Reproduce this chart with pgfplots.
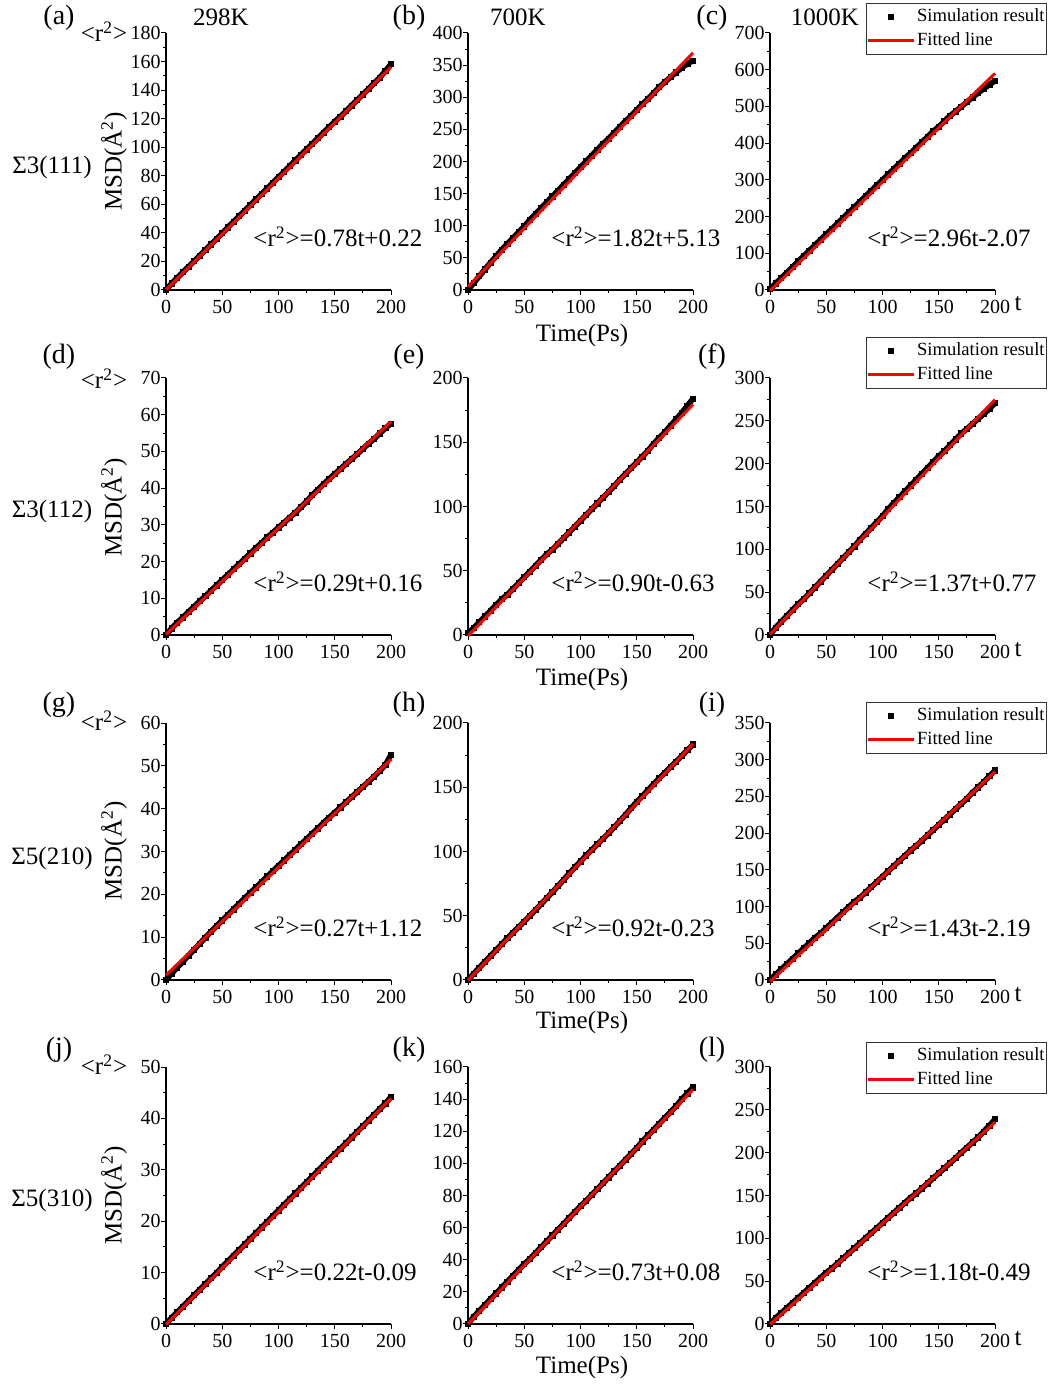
\documentclass[border=0pt]{standalone}
\usepackage{fontspec}
\setmainfont{Liberation Serif}
\usepackage{pgfplots}
\usepackage{pgfplotstable}
\pgfplotsset{compat=1.18}

\pgfplotstableread{
t A B C D E F G H I J K L
0 0 0 1.9 0 1.4 0 0 0 0 0 0 0
5 4.6 10.7 17.7 1.8 5.4 8.6 1.5 4.9 7.5 1.2 4.5 6.9
10 8.5 21.3 32.5 3.4 9.9 15.5 2.9 9.5 14.6 2.3 8.2 12.8
15 12.4 31.9 47.3 4.8 14.4 22.3 4.3 14.1 21.8 3.4 11.8 18.7
20 16.3 42.5 62.1 6.3 18.9 29.2 5.7 18.7 28.9 4.5 15.5 24.6
25 20.2 52.6 77.9 7.7 23.4 36.0 7.1 23.3 36.1 5.6 19.1 30.5
30 24.1 62.7 92.7 9.2 27.9 41.9 8.5 27.9 43.2 6.7 22.8 36.4
35 28.0 71.8 107.5 10.6 31.4 48.7 9.9 32.5 50.4 7.8 26.4 42.3
40 31.9 80.9 122.3 12.1 35.9 55.6 11.3 36.9 57.5 8.9 30.1 48.2
45 35.8 90.0 137.1 13.5 40.4 62.4 12.6 41.2 63.7 10.0 33.7 54.1
50 39.7 99.1 151.9 15.0 44.9 69.3 13.9 45.5 70.8 11.1 37.4 60.0
55 43.9 109.2 166.7 16.4 49.4 76.1 15.2 49.9 78.0 12.2 40.5 64.9
60 47.8 118.3 181.5 17.9 53.9 83.0 16.5 54.5 85.1 13.3 44.2 70.8
65 51.7 127.4 196.3 19.3 58.4 89.8 17.8 59.1 92.3 14.4 47.8 76.7
70 55.6 136.5 211.1 20.8 62.9 96.7 19.1 63.7 99.4 15.5 51.5 82.6
75 59.5 145.6 225.9 22.2 66.4 103.5 20.4 68.3 106.6 16.6 55.1 88.5
80 63.4 154.7 240.7 23.7 70.9 111.4 21.6 73.1 112.2 17.7 58.8 94.4
85 67.3 163.8 255.5 25.1 75.4 118.2 22.9 78.0 119.4 18.8 62.4 100.3
90 71.2 172.9 270.3 26.6 79.9 125.1 24.2 82.9 126.5 19.9 66.1 106.2
95 75.1 182.0 285.1 27.9 84.4 131.9 25.4 87.7 133.7 21.0 69.7 112.1
100 79.0 191.1 299.9 29.3 88.9 138.8 26.7 92.3 140.8 22.1 73.4 118.0
105 82.9 200.2 314.7 30.6 93.4 147.1 27.9 96.9 148.0 23.2 76.7 123.9
110 86.8 209.3 329.5 32.0 97.9 154.0 29.2 101.3 155.1 24.3 80.4 129.8
115 90.7 218.4 344.3 33.3 102.4 160.8 30.4 105.6 162.3 25.4 84.0 135.7
120 94.6 227.5 359.1 34.8 106.9 167.7 31.7 109.9 169.4 26.5 87.7 141.6
125 98.5 235.6 372.9 36.4 111.4 174.5 32.9 114.3 176.6 27.6 91.3 147.5
130 102.4 244.7 387.7 38.1 115.9 181.4 34.2 118.9 182.7 28.7 95.0 152.4
135 106.3 253.8 402.5 39.6 120.9 188.2 35.4 123.7 189.9 29.8 98.6 158.3
140 110.2 262.9 417.3 41.1 125.4 195.1 36.7 128.6 197.0 30.9 102.3 164.2
145 114.1 271.0 432.1 42.5 129.9 201.9 37.9 133.7 204.2 32.0 105.9 170.1
150 118.0 280.1 444.9 43.9 134.4 208.8 39.1 138.6 211.3 33.1 109.6 176.0
155 121.4 289.2 459.7 45.2 138.9 214.6 40.3 143.2 218.5 34.1 113.7 181.9
160 125.3 297.3 474.5 46.6 143.4 221.5 41.5 147.8 225.6 35.2 117.4 187.8
165 129.2 306.4 486.3 47.9 148.9 228.3 42.7 152.4 232.8 36.3 121.0 193.7
170 133.1 315.5 499.1 49.3 153.4 235.2 43.9 157.0 239.9 37.4 124.7 200.1
175 137.0 323.6 511.9 50.7 157.9 240.5 45.1 161.3 247.1 38.5 128.3 206.0
180 140.9 331.2 524.7 52.1 162.9 246.4 46.3 165.7 255.2 39.6 132.0 211.9
185 144.8 338.8 536.5 53.4 167.9 252.2 47.5 170.0 262.4 40.7 135.6 217.8
190 148.7 345.9 548.3 54.9 172.9 258.1 48.8 174.3 269.5 41.8 140.0 224.7
195 153.3 352.0 559.1 56.3 178.4 263.9 50.2 178.9 277.7 42.9 143.6 231.6
200 158.2 357.1 569.9 57.6 183.9 270.8 52.6 183.3 285.3 44.2 147.3 239.0
}\msd

\newcommand\lab{\fontsize{12.5}{15}\selectfont}
\newcommand\plab{\fontsize{14}{16}\selectfont}
\newcommand\rr{<r\textsuperscript{2}>}

\pgfplotsset{
  panel/.style={
    scale only axis, width=112.5pt, height=128.5pt, anchor=south west,
    xmin=0, xmax=200, ymin=0,
    axis x line*=bottom, axis y line*=left,
    axis line style={-, line width=0.6pt},
    tick align=outside, major tick length=2.5pt, minor tick length=1.3pt,
    every tick/.style={black, line width=0.5pt},
    xtick={0,50,100,150,200}, minor x tick num=1, minor y tick num=1,
    tick label style={font=\fontsize{10}{12}\selectfont},
    yticklabel style={inner xsep=1pt, xshift=1pt},
    xticklabel style={yshift=0.8pt},
    /pgf/number format/assume math mode=true,
    scaled y ticks=false,
    clip=false, clip marker paths=true,
    legend image code/.code={\draw[mark repeat=2,mark phase=2,#1] plot coordinates {(0pt,0pt) (11.5pt,0pt) (23pt,0pt)};},
    legend style={anchor=north west, draw=black!80, line width=0.5pt,
      font=\fontsize{9.3}{11}\selectfont, inner xsep=0pt, inner ysep=2pt,
      row sep=2.5pt, nodes={inner sep=0.75pt}},
    legend cell align=left,
  },
  band/.style={black, line width=2.8pt, no marks, forget plot},
  sim/.style={only marks, mark=square*, mark size=1.3pt, black},
  fit/.style={red, line width=1.5pt, no marks},
}

\begin{document}
\begin{tikzpicture}
\path[use as bounding box] (0,0) rectangle (525.5pt,692.5pt);

% ---------- Row 1 ----------
\begin{axis}[panel, at={(83pt,547.5pt)}, ymax=180, ytick distance=20]
\addplot[band] table[x=t,y=A]{\msd};
\addplot[sim] table[x=t,y=A]{\msd};
\addplot[fit] coordinates {(0,0.22) (200,156.22)};
\end{axis}
\begin{axis}[panel, at={(234pt,547.5pt)}, ymax=400, ytick distance=50]
\addplot[band] table[x=t,y=B]{\msd};
\addplot[sim] table[x=t,y=B]{\msd};
\addplot[fit] coordinates {(0,5.13) (200,369.13)};
\end{axis}
\begin{axis}[panel, at={(385pt,547.5pt)}, ymax=700, ytick distance=100,
  legend style={at={(0.4267,1.1167)}}]
\addplot[band] table[x=t,y=C]{\msd};
\addplot[sim] table[x=t,y=C]{\msd};
\addlegendentry{Simulation result}
\addplot[fit] coordinates {(0,-2.07) (200,589.93)};
\addlegendentry{Fitted line}
\end{axis}

% ---------- Row 2 ----------
\begin{axis}[panel, at={(83pt,375pt)}, ymax=70, ytick distance=10]
\addplot[band] table[x=t,y=D]{\msd};
\addplot[sim] table[x=t,y=D]{\msd};
\addplot[fit] coordinates {(0,0.16) (200,58.16)};
\end{axis}
\begin{axis}[panel, at={(234pt,375pt)}, ymax=200, ytick distance=50]
\addplot[band] table[x=t,y=E]{\msd};
\addplot[sim] table[x=t,y=E]{\msd};
\addplot[fit] coordinates {(0,-0.63) (200,179.37)};
\end{axis}
\begin{axis}[panel, at={(385pt,375pt)}, ymax=300, ytick distance=50,
  legend style={at={(0.4267,1.1595)}}]
\addplot[band] table[x=t,y=F]{\msd};
\addplot[sim] table[x=t,y=F]{\msd};
\addlegendentry{Simulation result}
\addplot[fit] coordinates {(0,0.77) (200,274.77)};
\addlegendentry{Fitted line}
\end{axis}

% ---------- Row 3 ----------
\begin{axis}[panel, at={(83pt,202.5pt)}, ymax=60, ytick distance=10]
\addplot[band] table[x=t,y=G]{\msd};
\addplot[sim] table[x=t,y=G]{\msd};
\addplot[fit] coordinates {(0,1.12) (200,51.5)};
\end{axis}
\begin{axis}[panel, at={(234pt,202.5pt)}, ymax=200, ytick distance=50]
\addplot[band] table[x=t,y=H]{\msd};
\addplot[sim] table[x=t,y=H]{\msd};
\addplot[fit] coordinates {(0,-0.23) (200,183.77)};
\end{axis}
\begin{axis}[panel, at={(385pt,202.5pt)}, ymax=350, ytick distance=50,
  legend style={at={(0.4267,1.0817)}}]
\addplot[band] table[x=t,y=I]{\msd};
\addplot[sim] table[x=t,y=I]{\msd};
\addlegendentry{Simulation result}
\addplot[fit] coordinates {(0,-2.19) (200,283.81)};
\addlegendentry{Fitted line}
\end{axis}

% ---------- Row 4 ----------
\begin{axis}[panel, at={(83pt,30.5pt)}, ymax=50, ytick distance=10]
\addplot[band] table[x=t,y=J]{\msd};
\addplot[sim] table[x=t,y=J]{\msd};
\addplot[fit] coordinates {(0,-0.09) (200,43.91)};
\end{axis}
\begin{axis}[panel, at={(234pt,30.5pt)}, ymax=160, ytick distance=20]
\addplot[band] table[x=t,y=K]{\msd};
\addplot[sim] table[x=t,y=K]{\msd};
\addplot[fit] coordinates {(0,0.08) (200,146.08)};
\end{axis}
\begin{axis}[panel, at={(385pt,30.5pt)}, ymax=300, ytick distance=50,
  legend style={at={(0.4267,1.0973)}}]
\addplot[band] table[x=t,y=L]{\msd};
\addplot[sim] table[x=t,y=L]{\msd};
\addlegendentry{Simulation result}
\addplot[fit] coordinates {(0,-0.49) (200,235.51)};
\addlegendentry{Fitted line}
\end{axis}

% ---------- panel letters ----------
\begin{scope}[every node/.style={font=\plab, inner sep=0pt}]
\node at (29.5pt,683.5pt) {(a)};
\node at (204.5pt,683.5pt) {(b)};
\node at (356pt,683.5pt) {(c)};
\node at (29.5pt,514pt) {(d)};
\node at (204.5pt,514pt) {(e)};
\node at (356pt,514pt) {(f)};
\node at (29.5pt,340pt) {(g)};
\node at (204.5pt,340pt) {(h)};
\node at (356pt,340pt) {(i)};
\node at (29.5pt,167.5pt) {(j)};
\node at (204.5pt,167.5pt) {(k)};
\node at (356pt,167.5pt) {(l)};
\end{scope}

\begin{scope}[every node/.style={font=\lab, inner sep=0pt}]
% <r^2> labels
\node[anchor=base] at (52pt,671.5pt) {\rr};
\node[anchor=base] at (52pt,498pt) {\rr};
\node[anchor=base] at (52pt,327pt) {\rr};
\node[anchor=base] at (52pt,155pt) {\rr};
% temperatures
\node at (110.5pt,684pt) {298K};
\node at (259pt,684pt) {700K};
\node at (412.5pt,684pt) {1000K};
% sigma labels
\node at (26pt,608.5pt) {Σ3(111)};
\node at (26pt,436.5pt) {Σ3(112)};
\node at (26pt,263.5pt) {Σ5(210)};
\node at (26pt,92.5pt) {Σ5(310)};
% MSD labels
\node[rotate=90] at (57pt,611.75pt) {MSD(Å\textsuperscript{2})};
\node[rotate=90] at (57pt,438.75pt) {MSD(Å\textsuperscript{2})};
\node[rotate=90] at (57pt,267pt) {MSD(Å\textsuperscript{2})};
\node[rotate=90] at (57pt,94.75pt) {MSD(Å\textsuperscript{2})};
% Time labels
\node at (291pt,524.5pt) {Time(Ps)};
\node at (291pt,352.5pt) {Time(Ps)};
\node at (291pt,181.5pt) {Time(Ps)};
\node at (291pt,9pt) {Time(Ps)};
% t labels
\node at (509pt,540.5pt) {t};
\node at (509pt,367.5pt) {t};
\node at (509pt,195pt) {t};
\node at (509pt,23pt) {t};
% equations
\node[anchor=base west] at (126.5pt,569pt) {\rr=0.78t+0.22};
\node[anchor=base west] at (275.5pt,569pt) {\rr=1.82t+5.13};
\node[anchor=base west] at (433.5pt,569pt) {\rr=2.96t-2.07};
\node[anchor=base west] at (126.5pt,396.5pt) {\rr=0.29t+0.16};
\node[anchor=base west] at (275.5pt,396.5pt) {\rr=0.90t-0.63};
\node[anchor=base west] at (433.5pt,396.5pt) {\rr=1.37t+0.77};
\node[anchor=base west] at (126.5pt,224pt) {\rr=0.27t+1.12};
\node[anchor=base west] at (275.5pt,224pt) {\rr=0.92t-0.23};
\node[anchor=base west] at (433.5pt,224pt) {\rr=1.43t-2.19};
\node[anchor=base west] at (126.5pt,52pt) {\rr=0.22t-0.09};
\node[anchor=base west] at (275.5pt,52pt) {\rr=0.73t+0.08};
\node[anchor=base west] at (433.5pt,52pt) {\rr=1.18t-0.49};
\end{scope}
\end{tikzpicture}
\end{document}
